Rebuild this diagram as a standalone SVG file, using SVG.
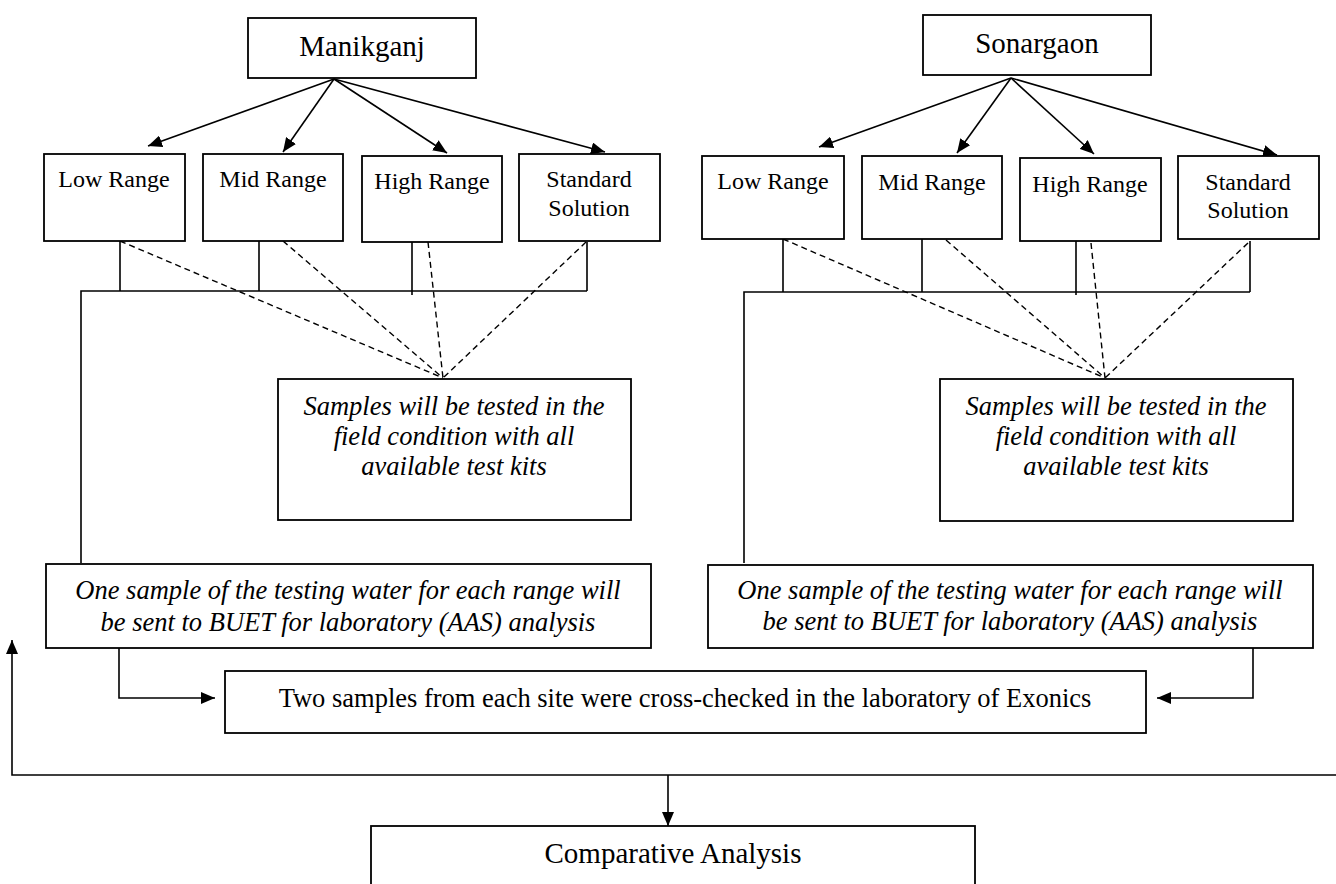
<svg xmlns="http://www.w3.org/2000/svg" width="1336" height="884" viewBox="0 0 1336 884">
<style>
.box{fill:#fff;stroke:#000;stroke-width:1.8}
.ln{fill:none;stroke:#000;stroke-width:1.6}
.ds{fill:none;stroke:#000;stroke-width:1.4;stroke-dasharray:6 4}
.t{font-family:"Liberation Serif","Times New Roman",serif;fill:#000;text-anchor:middle}
.big{font-size:29px}
.lab{font-size:24px}
.it{font-size:26.5px;font-style:italic}
.mid{font-size:26.5px}
</style>
<defs>
<marker id="ah" markerUnits="userSpaceOnUse" markerWidth="14" markerHeight="12" viewBox="0 0 14 12" refX="14" refY="6" orient="auto">
<path d="M0,0 L14,6 L0,12 Z" fill="#000"/>
</marker>
</defs>
<g id="connectors">
<line class="ln" x1="334" y1="79" x2="148" y2="146" marker-end="url(#ah)"/>
<line class="ln" x1="334" y1="79" x2="283" y2="152" marker-end="url(#ah)"/>
<line class="ln" x1="334" y1="79" x2="447" y2="153" marker-end="url(#ah)"/>
<line class="ln" x1="334" y1="79" x2="605" y2="152" marker-end="url(#ah)"/>
<line class="ln" x1="1011" y1="78" x2="819" y2="147" marker-end="url(#ah)"/>
<line class="ln" x1="1011" y1="78" x2="957" y2="153" marker-end="url(#ah)"/>
<line class="ln" x1="1011" y1="78" x2="1094" y2="154" marker-end="url(#ah)"/>
<line class="ln" x1="1011" y1="78" x2="1277" y2="155" marker-end="url(#ah)"/>
<path class="ln" d="M120,236 V291 M259,237 V291 M412,239 V295 M587,242 V291 M81,563 V291 H587"/>
<path class="ln" d="M783,237 V292 M922,237 V292 M1076,240 V295 M1250,241 V292 M744,563 V292 H1250"/>
<path class="ds" d="M120,241 L443,378 M283,241 L443,378 M428,242 L443,378 M586,242 L443,378"/>
<path class="ds" d="M783,239 L1105,378 M946,240 L1105,378 M1091,243 L1105,378 M1248,243 L1105,378"/>
<path class="ln" d="M119,648 V698 H215" marker-end="url(#ah)"/>
<path class="ln" d="M1253,648 V698 H1157" marker-end="url(#ah)"/>
<path class="ln" d="M1336,775 H12 V640" marker-end="url(#ah)"/>
<line class="ln" x1="668" y1="775" x2="668" y2="826" marker-end="url(#ah)"/>
</g>
<g id="manikganj"><rect class="box" x="248" y="18" width="228" height="60"/><text class="t big" x="362" y="56">Manikganj</text></g>
<g id="m-low"><rect class="box" x="44" y="154" width="141" height="87"/><text class="t lab" x="114" y="187">Low Range</text></g>
<g id="m-mid"><rect class="box" x="203" y="154" width="140" height="87"/><text class="t lab" x="273" y="187">Mid Range</text></g>
<g id="m-high"><rect class="box" x="362" y="156" width="140" height="86"/><text class="t lab" x="432" y="189">High Range</text></g>
<g id="m-std"><rect class="box" x="519" y="154" width="141" height="87"/><text class="t lab" x="589" y="187">Standard</text><text class="t lab" x="589" y="216">Solution</text></g>
<g id="m-field"><rect class="box" x="278" y="379" width="353" height="141"/><text class="t it" x="454" y="415">Samples will be tested in the</text><text class="t it" x="454" y="445">field condition with all</text><text class="t it" x="454" y="475">available test kits</text></g>
<g id="m-buet"><rect class="box" x="46" y="564" width="605" height="84"/><text class="t it" x="348" y="599">One sample of the testing water for each range will</text><text class="t it" x="348" y="631">be sent to BUET for laboratory (AAS) analysis</text></g>
<g id="sonargaon"><rect class="box" x="923" y="15" width="228" height="60"/><text class="t big" x="1037" y="53">Sonargaon</text></g>
<g id="s-low"><rect class="box" x="702" y="156" width="142" height="83"/><text class="t lab" x="773" y="189">Low Range</text></g>
<g id="s-mid"><rect class="box" x="862" y="156" width="140" height="83"/><text class="t lab" x="932" y="190">Mid Range</text></g>
<g id="s-high"><rect class="box" x="1020" y="158" width="141" height="83"/><text class="t lab" x="1090" y="192">High Range</text></g>
<g id="s-std"><rect class="box" x="1178" y="156" width="141" height="83"/><text class="t lab" x="1248" y="190">Standard</text><text class="t lab" x="1248" y="218">Solution</text></g>
<g id="s-field"><rect class="box" x="940" y="379" width="353" height="142"/><text class="t it" x="1116" y="415">Samples will be tested in the</text><text class="t it" x="1116" y="445">field condition with all</text><text class="t it" x="1116" y="475">available test kits</text></g>
<g id="s-buet"><rect class="box" x="708" y="565" width="605" height="83"/><text class="t it" x="1010" y="599">One sample of the testing water for each range will</text><text class="t it" x="1010" y="630">be sent to BUET for laboratory (AAS) analysis</text></g>
<g id="exonics"><rect class="box" x="225" y="671" width="921" height="62"/><text class="t mid" x="685" y="707">Two samples from each site were cross-checked in the laboratory of Exonics</text></g>
<g id="comparative"><rect class="box" x="371" y="826" width="604" height="70"/><text class="t big" x="673" y="863">Comparative Analysis</text></g>
</svg>
